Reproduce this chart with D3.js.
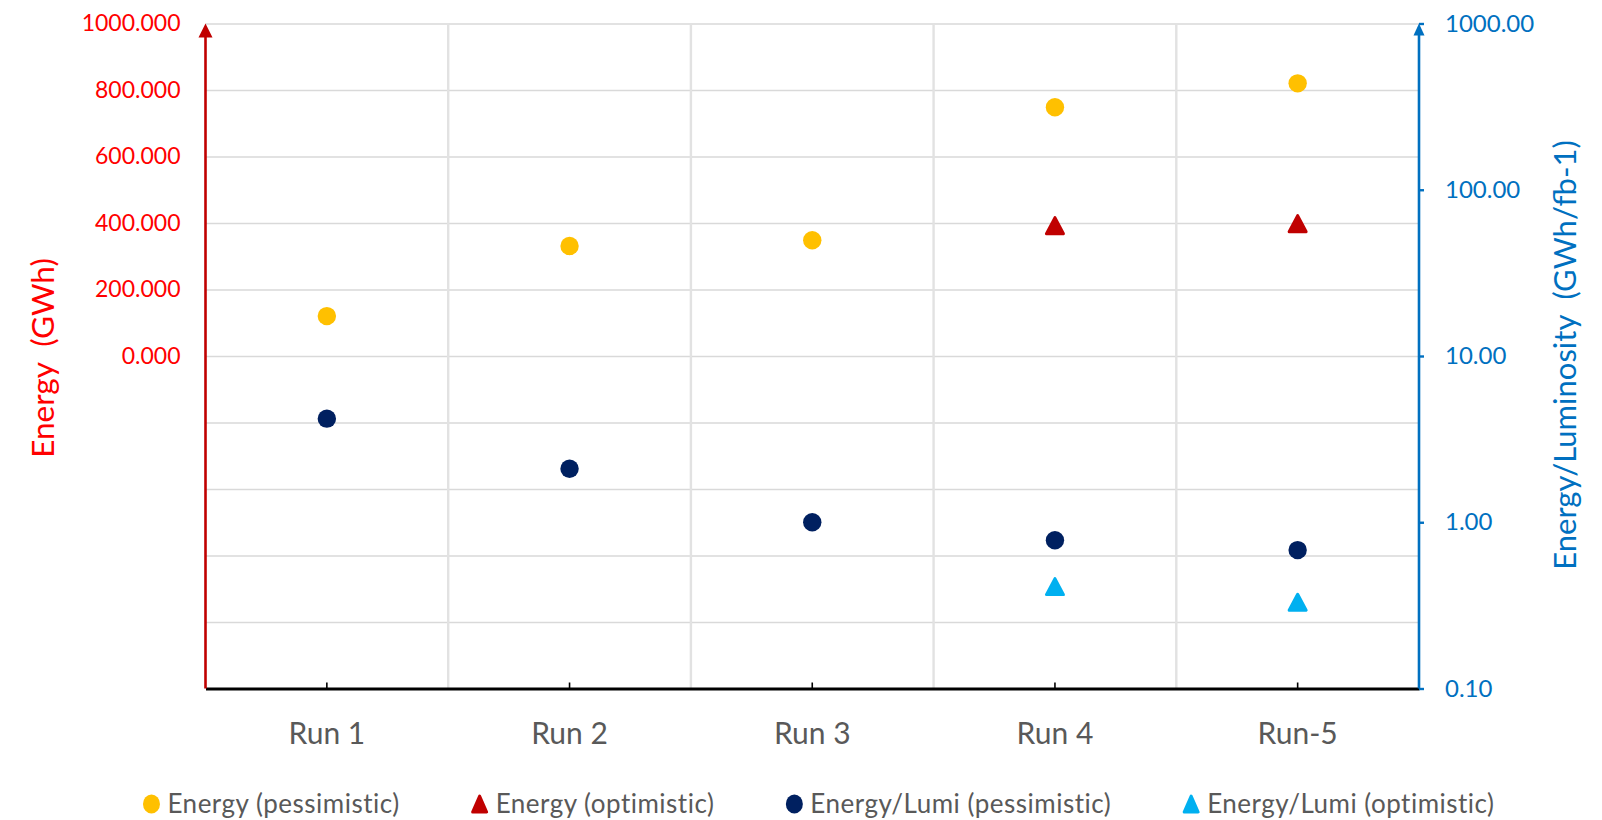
<!DOCTYPE html>
<html>
<head>
<meta charset="utf-8">
<script src="https://cdn.jsdelivr.net/npm/d3@7"></script>
<style>
  html, body { margin: 0; padding: 0; background: #ffffff; }
  svg { display: block; font-family: Lato, "Open Sans", sans-serif; }
</style>
</head>
<body>
<svg id="chart" width="1602" height="820"></svg>
<script>
// ---- data ----
const categories = ["Run 1", "Run 2", "Run 3", "Run 4", "Run-5"];
const energyPessimistic = [120, 331, 348, 748, 820];          // GWh (left axis)
const energyOptimistic  = [null, null, null, 392, 398];       // GWh (left axis)
const lumiPessimistic   = [4.2, 2.1, 1.0, 0.78, 0.68];        // GWh/fb-1 (right, log)
const lumiOptimistic    = [null, null, null, 0.41, 0.33];     // GWh/fb-1 (right, log)

const leftTicks  = [0, 200, 400, 600, 800, 1000];
const leftGrid   = [-800, -600, -400, -200, 0, 200, 400, 600, 800, 1000];
const leftDomain = [-1000, 1000];
const rightTicks = [0.1, 1, 10, 100, 1000];
const rightDomain = [0.1, 1000];

const seriesNames = ["Energy (pessimistic)", "Energy (optimistic)",
                     "Energy/Lumi (pessimistic)", "Energy/Lumi (optimistic)"];
const seriesColors = ["#FFC000", "#C00000", "#002060", "#00B0F0"];
const seriesShapes = ["circle", "triangle", "circle", "triangle"];

// ---- layout ----
const svg = d3.select("#chart");
const L = 205.5, R = 1419, T = 23.5, B = 688.5;

const x = d3.scaleBand().domain(categories).range([L, R]).padding(0);
const yL = d3.scaleLinear().domain(leftDomain).range([B, T]);
const yR = d3.scaleLog().domain(rightDomain).range([B, T]);

// horizontal gridlines
svg.append("g")
  .attr("transform", `translate(${L},0)`)
  .call(d3.axisLeft(yL).tickValues(leftGrid).tickSize(-(R - L)).tickFormat(""))
  .call(g => g.select(".domain").remove())
  .call(g => g.selectAll("line").attr("stroke", "#d9d9d9").attr("stroke-width", 1.6));

// vertical gridlines at category boundaries
svg.append("g").selectAll("line")
  .data(categories.slice(1))
  .join("line")
  .attr("x1", d => x(d)).attr("x2", d => x(d))
  .attr("y1", T).attr("y2", B)
  .attr("stroke", "#e2e2e2").attr("stroke-width", 2.4);

// bottom axis
const xAxis = svg.append("g")
  .attr("transform", `translate(0,${B})`)
  .call(d3.axisBottom(x).tickSizeInner(-6).tickSizeOuter(0).tickPadding(34));
xAxis.select(".domain").attr("stroke", "#000").attr("stroke-width", 3);
xAxis.selectAll(".tick line").attr("stroke", "#000").attr("stroke-width", 1.6);
xAxis.selectAll(".tick text")
  .attr("fill", "#595959").style("font-size", "30px").style("font-family", "Lato");

// left axis (labels only)
const yAxisL = svg.append("g")
  .attr("transform", `translate(${L},0)`)
  .call(d3.axisLeft(yL).tickValues(leftTicks).tickSize(0).tickPadding(25)
        .tickFormat(d3.format(".3f")));
yAxisL.select(".domain").remove();
yAxisL.selectAll(".tick text")
  .attr("fill", "#FF0000").style("font-size", "23px").style("font-family", "Lato");

// left axis line with arrow
svg.append("line")
  .attr("x1", L).attr("x2", L).attr("y1", B).attr("y2", T + 10)
  .attr("stroke", "#C00000").attr("stroke-width", 2.6);
svg.append("path")
  .attr("d", `M${L},${T}L${L + 7},${T + 14}L${L - 7},${T + 14}Z`)
  .attr("fill", "#C00000");

// right axis
const yAxisR = svg.append("g")
  .attr("transform", `translate(${R},0)`)
  .call(d3.axisRight(yR).tickValues(rightTicks).tickSize(5).tickPadding(21)
        .tickFormat(d3.format(".2f")));
yAxisR.select(".domain").remove();
yAxisR.selectAll(".tick line").attr("stroke", "#0070C0").attr("stroke-width", 2.4);
yAxisR.selectAll(".tick text")
  .attr("fill", "#0070C0").style("font-size", "24px").style("font-family", "Lato");
svg.append("line")
  .attr("x1", R).attr("x2", R).attr("y1", B).attr("y2", T + 8)
  .attr("stroke", "#0070C0").attr("stroke-width", 2.6);
svg.append("path")
  .attr("d", `M${R},${T}L${R + 5.5},${T + 12}L${R - 5.5},${T + 12}Z`)
  .attr("fill", "#0070C0");

// axis titles
svg.append("text")
  .attr("transform", `translate(54,358) rotate(-90)`)
  .attr("text-anchor", "middle")
  .attr("fill", "#FF0000")
  .style("font-size", "31.5px").style("white-space", "pre")
  .text("Energy  (GWh)");
svg.append("text")
  .attr("transform", `translate(1576,355) rotate(-90)`)
  .attr("text-anchor", "middle")
  .attr("fill", "#0070C0")
  .style("font-size", "31px").style("white-space", "pre")
  .text("Energy/Luminosity  (GWh/fb-1)");

// markers
const triPath = (w, h) => `M0,${-h / 2}L${w / 2},${h / 2}L${-w / 2},${h / 2}Z`;
function drawSeries(values, scale, color, shape) {
  const pts = values.map((v, i) => ({ c: categories[i], v })).filter(d => d.v != null);
  const g = svg.append("g");
  const cx = d => x(d.c) + x.bandwidth() / 2;
  if (shape === "circle") {
    g.selectAll("circle").data(pts).join("circle")
      .attr("cx", cx).attr("cy", d => scale(d.v)).attr("r", 9.2)
      .attr("fill", color);
  } else {
    g.selectAll("path").data(pts).join("path")
      .attr("transform", d => `translate(${cx(d)},${scale(d.v)})`)
      .attr("d", triPath(17, 16))
      .attr("fill", color).attr("stroke", color)
      .attr("stroke-width", 3).attr("stroke-linejoin", "round");
  }
}
drawSeries(energyPessimistic, yL, seriesColors[0], seriesShapes[0]);
drawSeries(energyOptimistic, yL, seriesColors[1], seriesShapes[1]);
drawSeries(lumiPessimistic, yR, seriesColors[2], seriesShapes[2]);
drawSeries(lumiOptimistic, yR, seriesColors[3], seriesShapes[3]);

// legend
const legY = 804;
const legend = svg.append("g");
const items = legend.selectAll("g").data(seriesNames).join("g");
items.append("text")
  .attr("x", 16).attr("y", 0).attr("dy", "0.35em")
  .attr("fill", "#595959").style("font-size", "26px").style("letter-spacing", "0.5px")
  .text(d => d);
const widths = [];
items.each(function () { widths.push(this.querySelector("text").getComputedTextLength()); });
const gap = 80;
let total = 0;
widths.forEach((w, i) => { total += 16 + w + (i < widths.length - 1 ? gap : 0); });
let cursor = 823 - total / 2;
items.each(function (d, i) {
  d3.select(this).attr("transform", `translate(${cursor},${legY})`);
  cursor += 16 + widths[i] + gap;
});
items.each(function (d, i) {
  const g = d3.select(this);
  if (seriesShapes[i] === "circle") {
    g.insert("ellipse", "text").attr("cx", 0).attr("cy", 0).attr("rx", 8.5).attr("ry", 9.5)
      .attr("fill", seriesColors[i]);
  } else {
    g.insert("path", "text").attr("d", triPath(14, 16))
      .attr("fill", seriesColors[i]).attr("stroke", seriesColors[i])
      .attr("stroke-width", 3).attr("stroke-linejoin", "round");
  }
});
</script>
</body>
</html>
